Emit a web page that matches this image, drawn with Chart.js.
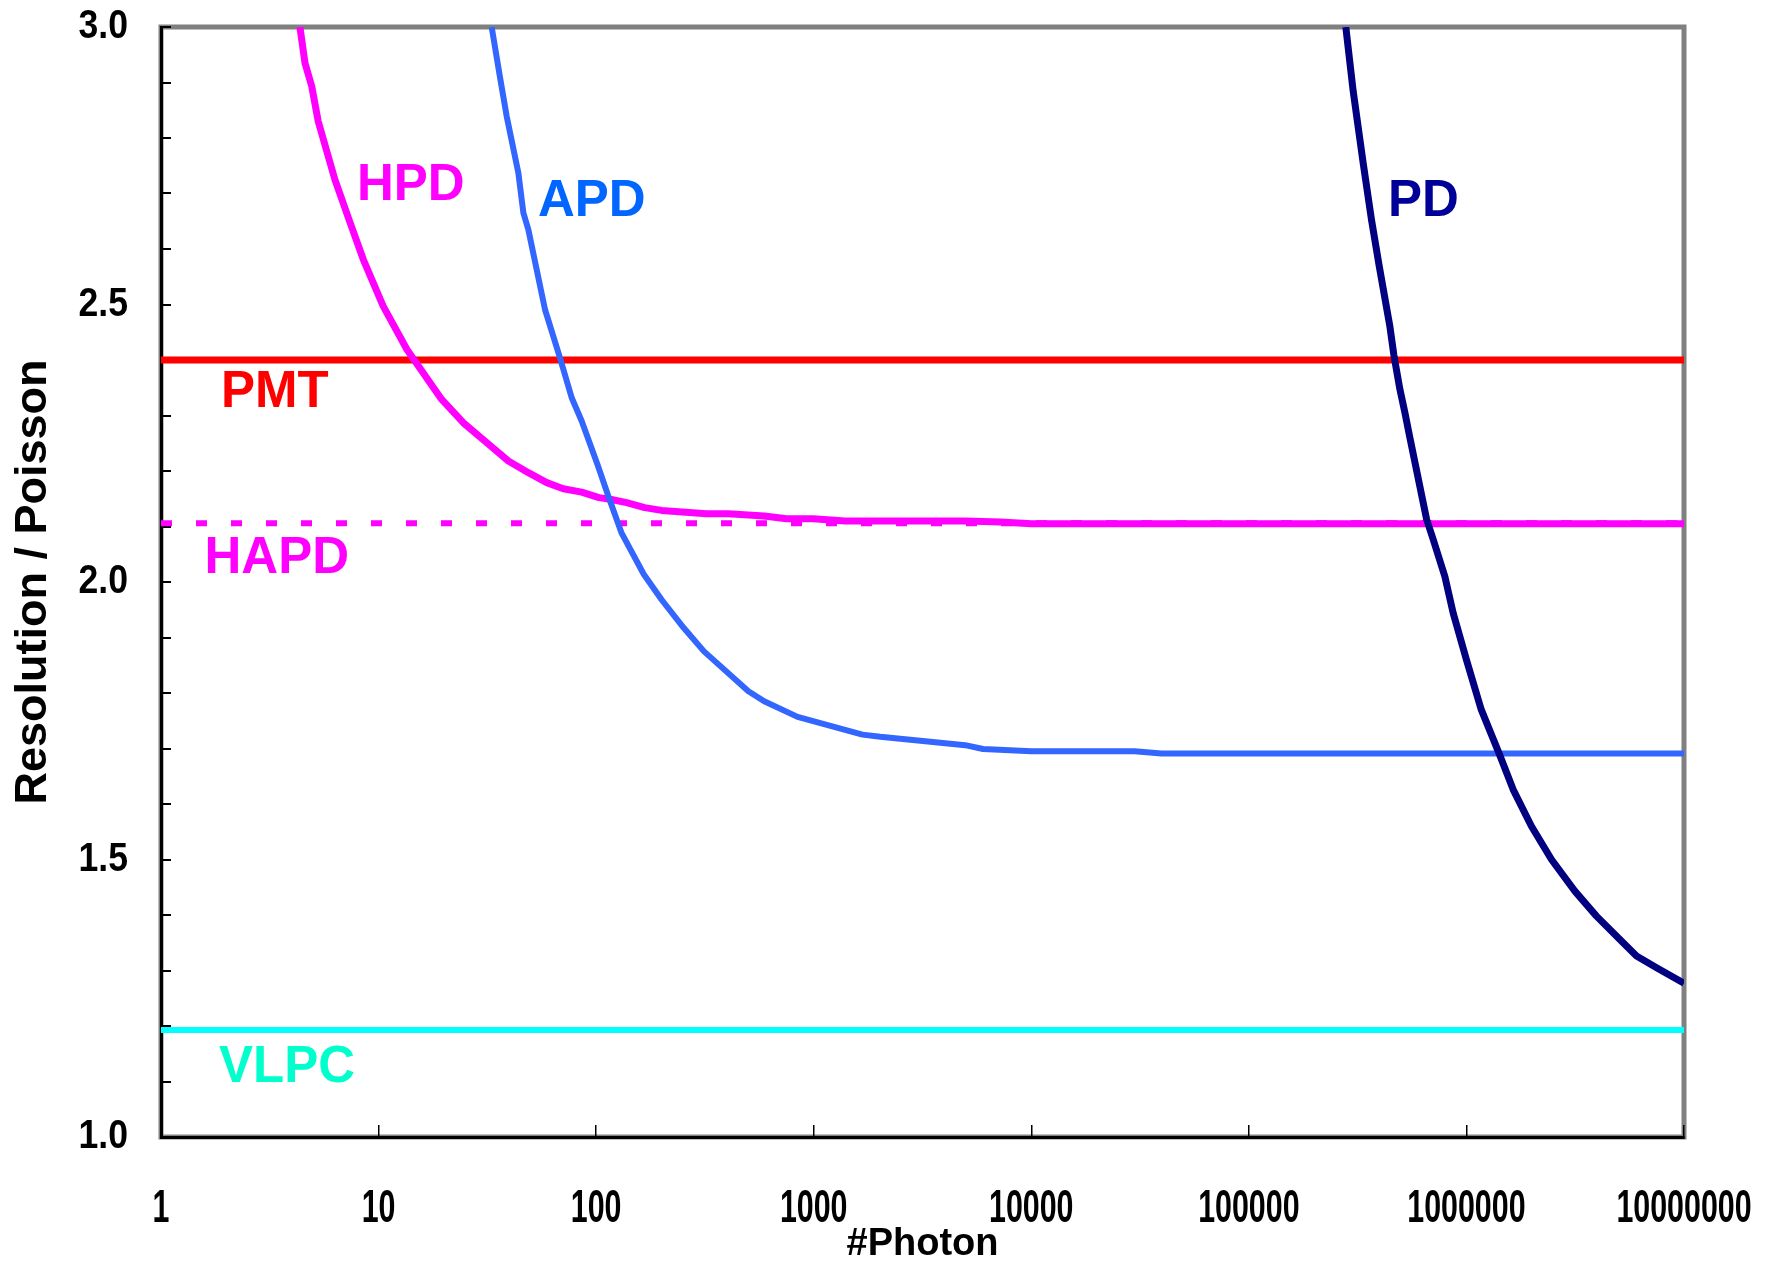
<!DOCTYPE html>
<html>
<head>
<meta charset="utf-8">
<title>Resolution / Poisson vs #Photon</title>
<script src="https://cdn.jsdelivr.net/npm/chart.js@4.4.1/dist/chart.umd.min.js"></script>
<style>
  html, body { margin: 0; padding: 0; background: #fff; }
  #wrap { width: 1773px; height: 1265px; }
</style>
</head>
<body>
<div id="wrap"><canvas id="chart" width="1773" height="1265"></canvas></div>
<script>
// decade ticks on the photon axis
const xTicks = [1, 10, 100, 1000, 10000, 100000, 1000000, 10000000];

// flat detectors
const pmtX = [1, 10000000];
const pmtY = [2.40, 2.40];
const hapdX = [1, 10000000];
const hapdY = [2.106, 2.106];
const vlpcX = [1, 10000000];
const vlpcY = [1.193, 1.193];

// HPD
const hpdX = [4.35, 4.59, 4.93, 5.28, 6.30, 7.39, 8.51, 10.5, 13.5, 19.5, 24.5, 31.4, 39.5, 48.8,
  59.3, 70.6, 85.8, 103, 116, 138, 167, 200, 321, 406, 592, 750, 995, 1390, 4970, 7240, 10000, 10000000];
const hpdY = [3.0, 2.935, 2.893, 2.830, 2.725, 2.648, 2.581, 2.497, 2.419, 2.329, 2.287, 2.251, 2.218, 2.197,
  2.179, 2.168, 2.162, 2.152, 2.149, 2.143, 2.134, 2.129, 2.123, 2.123, 2.119, 2.114, 2.114, 2.110, 2.110, 2.108, 2.105, 2.105];

// APD
const apdX = [33.1, 36.1, 38.8, 43.9, 46.3, 48.8, 53.3, 58.2, 68.2, 77.2, 85.8, 102, 113.7, 130.6, 165.5,
  200, 253, 313, 501, 592, 843, 1675, 2023, 4970, 6000, 10000, 29850, 39600, 10000000];
const apdY = [3.0, 2.911, 2.839, 2.737, 2.665, 2.635, 2.563, 2.491, 2.404, 2.332, 2.290, 2.209, 2.155, 2.089, 2.014,
  1.968, 1.917, 1.875, 1.803, 1.785, 1.757, 1.725, 1.721, 1.706, 1.699, 1.695, 1.695, 1.691, 1.691];

// PD
const pdX = [279000, 301500, 335000, 366000, 397000, 445000, 464000, 494000, 521000, 549000, 656000, 703000,
  796000, 869000, 1000000, 1170000, 1420000, 1640000, 1990000, 2460000, 3150000, 3960000, 4980000, 6050000, 7480000, 10000000];
const pdY = [3.0, 2.885, 2.756, 2.653, 2.570, 2.460, 2.409, 2.348, 2.306, 2.261, 2.113, 2.077,
  2.010, 1.944, 1.860, 1.770, 1.689, 1.626, 1.560, 1.500, 1.443, 1.398, 1.359, 1.326, 1.305, 1.277];

// curve names written inside the plot, anchored in data space (left / baseline)
const tagText = ['HPD', 'APD', 'PD', 'PMT', 'HAPD', 'VLPC'];
const tagX = [7.96, 54, 435500, 1.887, 1.585, 1.847];
const tagY = [2.689, 2.660, 2.660, 2.316, 2.017, 1.100];
const tagColor = ['#FF00FF', '#0066FF', '#000099', '#FF0000', '#FF00FF', '#00FFCC'];

const pts = (xs, ys) => xs.map((x, i) => ({ x: x, y: ys[i] }));

const sans = "'Liberation Sans', Arial, sans-serif";

// the old plot used a narrow face for the numbers; squeeze Liberation Sans sideways instead
const squeeze = { x: 0.66, y: 0.89 };

function narrowLabels(scale, factor) {
    return function (chartArea) {
        const ctx = this.ctx;
        const items = this.getLabelItems(chartArea);
        for (const item of items) {
            const o = item.options;
            if (!item.label) continue;
            ctx.save();
            ctx.translate(o.translation[0], o.translation[1]);
            ctx.scale(factor, 1);
            ctx.font = item.font.string;
            ctx.fillStyle = o.color;
            ctx.textAlign = o.textAlign;
            ctx.textBaseline = o.textBaseline;
            ctx.fillText(item.label, 0, item.textOffset);
            ctx.restore();
        }
    };
}

const frameAndTags = {
    id: 'frameAndTags',
    afterLayout(chart) {
        Object.keys(squeeze).forEach(id => {
            const s = chart.scales[id];
            s.drawLabels = narrowLabels(s, squeeze[id]);
        });
    },
    beforeDraw(chart) {
        // grey box behind the black axes, like the old spreadsheet frame
        const { ctx, chartArea: a } = chart;
        ctx.save();
        ctx.strokeStyle = '#808080';
        ctx.lineWidth = 5;
        ctx.strokeRect(a.left, a.top, a.right - a.left, a.bottom - a.top);
        ctx.restore();
    },
    afterDatasetsDraw(chart) {
        const { ctx } = chart;
        const sx = chart.scales.x, sy = chart.scales.y;
        ctx.save();
        ctx.font = "bold 51px " + sans;
        ctx.textAlign = 'left';
        ctx.textBaseline = 'alphabetic';
        tagText.forEach((t, i) => {
            ctx.fillStyle = tagColor[i];
            ctx.fillText(t, sx.getPixelForValue(tagX[i]), sy.getPixelForValue(tagY[i]));
        });
        ctx.restore();
    }
};

new Chart(document.getElementById('chart'), {
    type: 'line',
    data: {
        datasets: [
            { label: 'PD', data: pts(pdX, pdY), borderColor: '#000080', borderWidth: 7 },
            { label: 'APD', data: pts(apdX, apdY), borderColor: '#3366FF', borderWidth: 6 },
            { label: 'HPD', data: pts(hpdX, hpdY), borderColor: '#FF00FF', borderWidth: 7 },
            { label: 'VLPC', data: pts(vlpcX, vlpcY), borderColor: '#00FFFF', borderWidth: 6 },
            { label: 'HAPD', data: pts(hapdX, hapdY), borderColor: '#FF00FF', borderWidth: 6, borderDash: [11, 24] },
            { label: 'PMT', data: pts(pmtX, pmtY), borderColor: '#FF0000', borderWidth: 7 }
        ]
    },
    options: {
        responsive: false,
        animation: false,
        elements: {
            point: { radius: 0, hoverRadius: 0 },
            line: { tension: 0, fill: false, borderCapStyle: 'butt', borderJoinStyle: 'round' }
        },
        layout: { padding: { top: 27, right: 89, left: 0, bottom: 0 } },
        plugins: { legend: { display: false }, tooltip: { enabled: false } },
        scales: {
            x: {
                type: 'logarithmic',
                min: 1,
                max: 10000000,
                afterBuildTicks: s => { s.ticks = xTicks.map(v => ({ value: v })); },
                afterFit: s => { s.height = 128; s.paddingLeft = 0; s.paddingRight = 0; },
                ticks: {
                    autoSkip: false,
                    maxRotation: 0,
                    padding: 57,
                    color: '#000',
                    font: { family: sans, size: 46, weight: 'bold' },
                    callback: v => String(v)
                },
                grid: { drawOnChartArea: false, tickLength: -12, color: '#000', lineWidth: 1.5 },
                border: { color: '#000', width: 3 },
                title: {
                    display: true,
                    text: '#Photon',
                    color: '#000',
                    font: { family: sans, size: 38, weight: 'bold' },
                    padding: { top: 0, bottom: -2 }
                }
            },
            y: {
                min: 1,
                max: 3,
                afterFit: s => { s.width = 161; s.paddingTop = 0; s.paddingBottom = 0; },
                ticks: {
                    stepSize: 0.1,
                    autoSkip: false,
                    padding: 43,
                    color: '#000',
                    font: { family: sans, size: 40, weight: 'bold' },
                    callback: v => {
                        const t = Math.round(v * 10);
                        return t % 5 === 0 ? (t / 10).toFixed(1) : '';
                    }
                },
                grid: { drawOnChartArea: false, tickLength: -10, color: '#000', lineWidth: 2 },
                border: { color: '#000', width: 3 },
                title: {
                    display: true,
                    text: 'Resolution / Poisson',
                    color: '#000',
                    font: { family: sans, size: 45, weight: 'bold', lineHeight: 1 },
                    padding: { top: 11, bottom: 0 }
                }
            }
        }
    },
    plugins: [frameAndTags]
});
</script>
</body>
</html>
